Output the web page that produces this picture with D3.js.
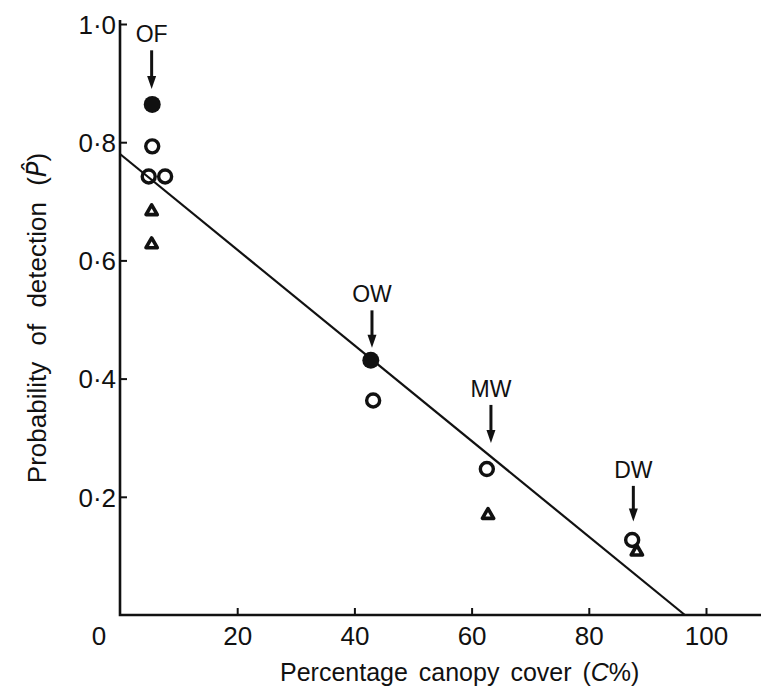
<!DOCTYPE html>
<html>
<head>
<meta charset="utf-8">
<script src="https://cdn.jsdelivr.net/npm/d3@7"></script>
<style>
  body { margin: 0; background: #fff; }
  svg text { font-family: "Liberation Sans", Arial, sans-serif; fill: #111; }
</style>
</head>
<body>
<script>
const width = 761, height = 689

// site labels + where their arrows point (canopy %, tip of arrow as P)
const sites = ["OF", "OW", "MW", "DW"]
const siteCover = [5.4, 43.0, 63.3, 87.6]
const siteArrowTip = [0.89, 0.452, 0.291, 0.158]
const siteLabelP = [0.969, 0.529, 0.369, 0.232]

// filled circles
const filledX = [5.5, 42.8]
const filledY = [0.864, 0.431]
// open circles
const openX = [5.5, 4.9, 7.7, 43.2, 62.6, 87.4]
const openY = [0.793, 0.742, 0.742, 0.363, 0.247, 0.127]
// open triangles
const triX = [5.4, 5.4, 62.8, 88.2]
const triY = [0.683, 0.627, 0.169, 0.107]

// fitted line end points [cover, P]
const fitLine = [[0, 0.78], [96.4, 0]]

const xTicks = [20, 40, 60, 80, 100]
const yTicks = [0.2, 0.4, 0.6, 0.8, 1.0]

const x = d3.scaleLinear([0, 100], [120, 706])
const y = d3.scaleLinear([0, 1], [615, 24])

const svg = d3.select("body").append("svg")
    .attr("width", width)
    .attr("height", height)

const fmt = d => d3.format(".1f")(d).replace(".", "\u00B7")

// y axis
const gy = svg.append("g")
    .attr("transform", `translate(${x(0)},0)`)
    .call(d3.axisRight(y).tickValues(yTicks).tickSize(7).tickFormat(fmt))
gy.select(".domain").remove()
gy.selectAll(".tick line").attr("stroke", "#111").attr("stroke-width", 2)
gy.selectAll(".tick text")
    .attr("x", -4)
    .attr("text-anchor", "end")
    .attr("dy", "0.36em")
    .style("font-size", "26px")

// x axis
const gx = svg.append("g")
    .attr("transform", `translate(0,${y(0)})`)
    .call(d3.axisTop(x).tickValues(xTicks).tickSize(7).tickFormat(d3.format("d")))
gx.select(".domain").remove()
gx.selectAll(".tick line").attr("stroke", "#111").attr("stroke-width", 2)
gx.selectAll(".tick text")
    .attr("y", 30)
    .attr("dy", 0)
    .style("font-size", "26px")

svg.append("text")
    .attr("x", x(0) - 21)
    .attr("y", y(0) + 30)
    .attr("text-anchor", "middle")
    .style("font-size", "26px")
    .text("0")

// axis lines
svg.append("path")
    .attr("d", `M${x(0)},20 V${y(0)} H${width}`)
    .attr("fill", "none")
    .attr("stroke", "#111")
    .attr("stroke-width", 2.6)

// titles
svg.append("text")
    .attr("x", 280)
    .attr("y", 681)
    .style("font-size", "25px")
    .style("word-spacing", "4px")
    .text("Percentage canopy cover (")
    .call(t => t.append("tspan").style("font-style", "italic").text("C"))
    .call(t => t.append("tspan").text("%)"))

svg.append("text")
    .attr("transform", "translate(46,318) rotate(-90)")
    .attr("text-anchor", "middle")
    .style("font-size", "26px")
    .style("word-spacing", "9px")
    .text("Probability of detection (")
    .call(t => t.append("tspan").style("font-style", "italic").style("font-family", "DejaVu Sans").text("P\u0302"))
    .call(t => t.append("tspan").text(")"))

// regression line
svg.append("line")
    .attr("x1", x(fitLine[0][0])).attr("y1", y(fitLine[0][1]))
    .attr("x2", x(fitLine[1][0])).attr("y2", y(fitLine[1][1]))
    .attr("stroke", "#111")
    .attr("stroke-width", 2.2)

// arrows + site labels
const g_sites = svg.append("g")
sites.forEach((s, i) => {
    const cx = x(siteCover[i])
    const top = y(siteLabelP[i])
    const tip = y(siteArrowTip[i])
    g_sites.append("text")
        .attr("x", cx)
        .attr("y", top)
        .attr("text-anchor", "middle")
        .style("font-size", "23px")
        .text(s)
    g_sites.append("line")
        .attr("x1", cx).attr("x2", cx)
        .attr("y1", top + 8).attr("y2", tip - 10)
        .attr("stroke", "#111")
        .attr("stroke-width", 3)
    g_sites.append("path")
        .attr("d", `M${cx - 4.5},${tip - 13} L${cx + 4.5},${tip - 13} L${cx},${tip} Z`)
        .attr("fill", "#111")
})

// markers
svg.append("g").selectAll("circle")
    .data(d3.zip(filledX, filledY))
    .join("circle")
    .attr("cx", d => x(d[0]))
    .attr("cy", d => y(d[1]))
    .attr("r", 8.5)
    .attr("fill", "#111")

svg.append("g").selectAll("ellipse")
    .data(d3.zip(openX, openY))
    .join("ellipse")
    .attr("cx", d => x(d[0]))
    .attr("cy", d => y(d[1]))
    .attr("rx", 6.5)
    .attr("ry", 6.5)
    .attr("fill", "none")
    .attr("stroke", "#111")
    .attr("stroke-width", 3.4)

const tri = d3.symbol(d3.symbolTriangle, 55)
svg.append("g").selectAll("path")
    .data(d3.zip(triX, triY))
    .join("path")
    .attr("transform", d => `translate(${x(d[0])},${y(d[1])})`)
    .attr("d", tri)
    .attr("fill", "#fff")
    .attr("stroke", "#111")
    .attr("stroke-width", 3.6)
    .attr("stroke-linejoin", "round")
</script>
</body>
</html>
